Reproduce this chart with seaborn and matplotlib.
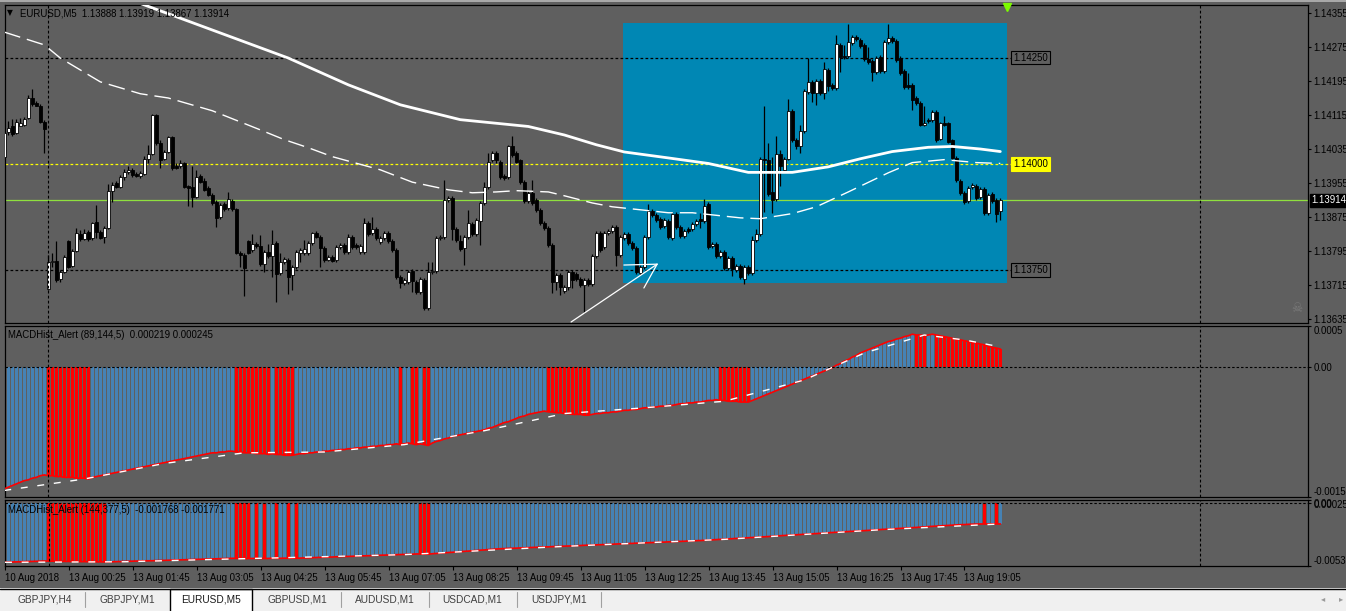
import numpy as np
import pandas as pd
import matplotlib
matplotlib.use("Agg")
import matplotlib.pyplot as plt
import seaborn as sns
from matplotlib.patches import Rectangle
from matplotlib import transforms

# ---------------- data: EURUSD M5, 250 visible bars, prices in points (1e-5) ----------------
OPEN_PTS = [
    114017, 114075, 114088, 114073, 114090, 114092, 114108, 114155, 114144, 114137,
    114099, 113706, 113769, 113772, 113730, 113746, 113819, 113760, 113796, 113836,
    113824, 113840, 113826, 113863, 113840, 113829, 113849, 113937, 113955, 113946,
    113970, 113981, 113986, 113977, 113972, 113977, 114012, 114024, 114115, 114050,
    114012, 114028, 114064, 113996, 113994, 114003, 113948, 113946, 113923, 113972,
    113960, 113943, 113927, 113910, 113876, 113906, 113896, 113913, 113894, 113791,
    113786, 113819, 113798, 113812, 113807, 113765, 113793, 113784, 113814, 113744,
    113769, 113774, 113739, 113758, 113791, 113791, 113791, 113814, 113838, 113829,
    113802, 113774, 113782, 113774, 113805, 113809, 113793, 113829, 113809, 113793,
    113793, 113861, 113838, 113847, 113816, 113826, 113838, 113819, 113798, 113735,
    113720, 113722, 113749, 113722, 113699, 113727, 113661, 113746, 113749, 113826,
    113829, 113915, 113920, 113847, 113819, 113802, 113829, 113859, 113836, 113866,
    113908, 113946, 114010, 114026, 114005, 113972, 113970, 114041, 114026, 114008,
    113957, 113913, 113932, 113915, 113892, 113861, 113849, 113809, 113722, 113739,
    113702, 113711, 113746, 113742, 113730, 113715, 113727, 113718, 113784, 113838,
    113805, 113838, 113843, 113852, 113786, 113826, 113836, 113814, 113802, 113744,
    113758, 113829, 113890, 113880, 113871, 113854, 113866, 113826, 113883, 113852,
    113831, 113847, 113847, 113859, 113871, 113866, 113906, 113807, 113812, 113784,
    113793, 113755, 113779, 113751, 113760, 113730, 113758, 113744, 113821, 113836,
    114012, 114008, 113934, 113918, 114024, 113986, 114012, 114125, 114057, 114041,
    114078, 114169, 114193, 114167, 114196, 114167, 114221, 114186, 114179, 114280,
    114254, 114254, 114285, 114299, 114292, 114280, 114247, 114243, 114216, 114252,
    114219, 114287, 114296, 114290, 114249, 114219, 114186, 114186, 114155, 114144,
    114092, 114104, 114104, 114122, 114059, 114097, 114095, 114055, 114014, 113960,
    113932, 113913, 113946, 113948, 113923, 113941, 113885, 113930, 113915, 113888,
]
HIGH_PTS = [
    114080, 114102, 114106, 114106, 114108, 114111, 114162, 114177, 114149, 114142,
    114104, 113786, 113791, 113819, 113751, 113786, 113821, 113800, 113849, 113845,
    113847, 113845, 113863, 113903, 113845, 113854, 113953, 113957, 113960, 113974,
    113989, 113994, 113991, 113981, 113984, 114019, 114045, 114118, 114118, 114055,
    114033, 114066, 114066, 114003, 114008, 114005, 113950, 113996, 113986, 113977,
    113967, 113948, 113932, 113915, 113908, 113910, 113934, 113918, 113896, 113796,
    113791, 113821, 113836, 113816, 113833, 113798, 113812, 113845, 113819, 113791,
    113782, 113779, 113762, 113798, 113802, 113821, 113819, 113840, 113843, 113833,
    113807, 113786, 113786, 113809, 113814, 113814, 113836, 113833, 113814, 113812,
    113873, 113866, 113876, 113852, 113831, 113843, 113843, 113824, 113802, 113739,
    113732, 113751, 113753, 113727, 113735, 113732, 113769, 113769, 113831, 113833,
    113962, 113925, 113925, 113852, 113833, 113833, 113892, 113863, 113873, 113913,
    113957, 114026, 114031, 114031, 114010, 113977, 114045, 114066, 114031, 114012,
    113962, 113937, 113962, 113920, 113896, 113866, 113854, 113814, 113744, 113744,
    113715, 113751, 113751, 113746, 113735, 113732, 113732, 113789, 113843, 113843,
    113843, 113847, 113856, 113856, 113833, 113840, 113840, 113819, 113807, 113762,
    113833, 113906, 113894, 113885, 113876, 113873, 113871, 113887, 113887, 113856,
    113847, 113852, 113863, 113871, 113885, 113918, 113910, 113816, 113816, 113798,
    113798, 113784, 113784, 113765, 113765, 113762, 113762, 113831, 113847, 114017,
    114135, 114050, 114017, 114066, 114033, 114017, 114153, 114130, 114061, 114092,
    114177, 114249, 114198, 114200, 114200, 114240, 114226, 114191, 114303, 114285,
    114280, 114330, 114303, 114303, 114296, 114285, 114276, 114247, 114254, 114256,
    114292, 114330, 114301, 114294, 114254, 114224, 114214, 114191, 114160, 114149,
    114137, 114108, 114127, 114127, 114099, 114113, 114099, 114059, 114019, 113965,
    113937, 113948, 113955, 113953, 113946, 113946, 113932, 113934, 113920, 113919,
]
LOW_PTS = [
    114014, 114068, 114066, 114071, 114090, 114088, 114106, 114135, 114135, 114097,
    114026, 113704, 113758, 113722, 113722, 113744, 113755, 113758, 113793, 113819,
    113821, 113819, 113821, 113826, 113824, 113814, 113847, 113910, 113943, 113943,
    113962, 113977, 113970, 113970, 113967, 113974, 114003, 114021, 114045, 113991,
    114010, 114026, 113986, 113989, 113991, 113943, 113901, 113899, 113920, 113955,
    113937, 113925, 113903, 113852, 113871, 113890, 113892, 113890, 113789, 113758,
    113690, 113789, 113793, 113802, 113760, 113746, 113779, 113735, 113675, 113739,
    113765, 113695, 113704, 113753, 113769, 113786, 113786, 113809, 113826, 113758,
    113769, 113772, 113769, 113769, 113800, 113789, 113789, 113800, 113800, 113789,
    113789, 113831, 113833, 113821, 113812, 113821, 113814, 113793, 113730, 113708,
    113715, 113718, 113699, 113695, 113695, 113657, 113657, 113742, 113744, 113821,
    113824, 113910, 113821, 113816, 113796, 113762, 113824, 113831, 113831, 113809,
    113903, 113941, 114005, 114003, 113965, 113962, 113965, 114017, 114001, 113953,
    113908, 113908, 113903, 113887, 113856, 113845, 113805, 113697, 113704, 113692,
    113697, 113704, 113708, 113725, 113711, 113650, 113713, 113713, 113779, 113793,
    113800, 113833, 113838, 113760, 113782, 113821, 113809, 113798, 113742, 113739,
    113753, 113824, 113876, 113863, 113847, 113849, 113824, 113821, 113847, 113826,
    113826, 113838, 113843, 113854, 113849, 113861, 113800, 113802, 113779, 113779,
    113751, 113751, 113737, 113746, 113730, 113718, 113739, 113739, 113816, 113831,
    113887, 113925, 113885, 113913, 113948, 113981, 114008, 114052, 114036, 114026,
    114073, 114165, 114146, 114139, 114162, 114153, 114172, 114174, 114174, 114216,
    114247, 114249, 114280, 114290, 114273, 114243, 114236, 114196, 114212, 114214,
    114214, 114283, 114285, 114240, 114209, 114177, 114177, 114127, 114139, 114088,
    114088, 114097, 114099, 114052, 114055, 114088, 114048, 114010, 113957, 113927,
    113906, 113908, 113941, 113915, 113918, 113880, 113880, 113908, 113863, 113867,
]
CLOSE_PTS = [
    114073, 114085, 114071, 114099, 114097, 114106, 114155, 114142, 114137, 114099,
    114083, 113769, 113772, 113727, 113746, 113782, 113758, 113796, 113838, 113824,
    113838, 113824, 113861, 113840, 113826, 113849, 113937, 113950, 113946, 113970,
    113981, 113986, 113974, 113972, 113979, 114012, 114024, 114115, 114050, 114010,
    114028, 114064, 113991, 113991, 114003, 113946, 113943, 113923, 113970, 113957,
    113939, 113927, 113908, 113873, 113903, 113894, 113918, 113894, 113791, 113786,
    113755, 113791, 113812, 113807, 113765, 113793, 113784, 113812, 113742, 113769,
    113777, 113735, 113758, 113793, 113798, 113800, 113814, 113838, 113829, 113802,
    113774, 113782, 113772, 113805, 113809, 113793, 113829, 113805, 113805, 113807,
    113861, 113836, 113847, 113826, 113826, 113838, 113819, 113798, 113735, 113720,
    113727, 113746, 113725, 113699, 113730, 113661, 113746, 113749, 113826, 113829,
    113915, 113920, 113847, 113821, 113800, 113829, 113861, 113836, 113868, 113908,
    113946, 114005, 114026, 114008, 113970, 113967, 114041, 114021, 114005, 113957,
    113913, 113932, 113908, 113892, 113861, 113849, 113809, 113722, 113739, 113711,
    113711, 113746, 113727, 113730, 113715, 113727, 113718, 113784, 113838, 113798,
    113838, 113843, 113852, 113786, 113829, 113836, 113814, 113802, 113746, 113758,
    113829, 113890, 113880, 113868, 113852, 113868, 113829, 113883, 113852, 113831,
    113843, 113843, 113859, 113866, 113866, 113901, 113805, 113812, 113784, 113793,
    113755, 113779, 113753, 113760, 113735, 113758, 113744, 113821, 113836, 114012,
    114008, 113930, 113915, 114024, 113994, 114012, 114125, 114057, 114041, 114078,
    114172, 114193, 114167, 114196, 114167, 114224, 114184, 114179, 114283, 114252,
    114252, 114287, 114299, 114294, 114278, 114247, 114240, 114216, 114249, 114219,
    114287, 114296, 114290, 114245, 114214, 114182, 114182, 114151, 114144, 114092,
    114097, 114102, 114122, 114057, 114095, 114092, 114052, 114014, 113962, 113932,
    113910, 113943, 113950, 113920, 113941, 113885, 113927, 113913, 113883, 113914,
]

# moving averages (read at selected bars)
MA_SLOW_BARS = [0, 20, 35, 71, 86, 99, 114, 131, 140, 148, 155, 166, 176, 186, 197, 206, 214, 222, 231, 237, 244, 249]
MA_SLOW = [1.14492, 1.14424, 1.14374, 1.14249, 1.14186, 1.14139, 1.14104, 1.14088, 1.14068, 1.14045, 1.14028,
           1.14014, 1.14001, 1.13980, 1.13980, 1.13993, 1.14012, 1.14029, 1.14039, 1.14041, 1.14035, 1.14029]
MA_FAST_BARS = [0, 10, 14, 24, 34, 41, 52, 64, 70, 76, 82, 94, 102, 111, 117, 123, 128, 136, 140, 147,
                152, 159, 166, 172, 184, 189, 197, 203, 211, 221, 227, 235, 243, 249]
MA_FAST = [1.14310, 1.14280, 1.14249, 1.14193, 1.14165, 1.14155, 1.14125, 1.14080, 1.14057, 1.14038,
           1.14017, 1.13986, 1.13957, 1.13939, 1.13932, 1.13934, 1.13937, 1.13934, 1.13925, 1.13908,
           1.13899, 1.13892, 1.13885, 1.13885, 1.13873, 1.13871, 1.13883, 1.13899, 1.13934, 1.13979,
           1.14003, 1.14010, 1.14003, 1.14001]

# MACDHist_Alert (89,144,5), values in 1e-5
HIST1_E5 = [
    -149, -147, -145, -143, -141, -139, -138, -136, -135, -133,
    -132, -133, -133, -134, -134, -135, -135, -135, -136, -136,
    -136, -137, -135, -134, -133, -132, -131, -130, -129, -128,
    -127, -126, -125, -124, -123, -122, -121, -120, -119, -118,
    -117, -116, -115, -114, -113, -112, -111, -110, -109, -108,
    -107, -106, -105, -105, -104, -104, -103, -103, -104, -104,
    -105, -105, -105, -106, -106, -106, -107, -106, -107, -107,
    -108, -108, -108, -107, -106, -106, -105, -105, -104, -104,
    -103, -103, -102, -102, -101, -101, -100, -100, -99, -99,
    -98, -98, -97, -97, -96, -96, -95, -95, -94, -95,
    -94, -93, -94, -95, -94, -95, -96, -93, -91, -90,
    -88, -87, -85, -84, -83, -82, -81, -80, -79, -78,
    -77, -75, -74, -72, -70, -68, -67, -65, -63, -61,
    -60, -58, -57, -56, -55, -54, -55, -55, -56, -56,
    -57, -57, -58, -58, -58, -59, -59, -58, -57, -57,
    -56, -56, -55, -55, -54, -53, -53, -52, -52, -51,
    -50, -50, -49, -49, -48, -48, -47, -47, -46, -45,
    -45, -44, -44, -43, -43, -42, -41, -41, -40, -41,
    -41, -42, -42, -42, -43, -43, -43, -41, -39, -37,
    -35, -33, -31, -29, -27, -25, -23, -21, -19, -17,
    -15, -13, -11, -9, -7, -5, -3, -1, 2, 4,
    7, 9, 12, 14, 17, 19, 21, 23, 25, 27,
    29, 31, 32, 34, 35, 37, 38, 40, 39, 39,
    38, 39, 40, 39, 38, 37, 36, 35, 34, 33,
    32, 31, 30, 29, 28, 27, 25, 24, 23, 22,
]
RED_RUNS1 = [(11, 21), (58, 66), (68, 72), (99, 99), (102, 103), (105, 106),
             (136, 146), (179, 186), (228, 230), (233, 249)]
SIG1_BARS = [0, 20, 40, 60, 80, 100, 120, 140, 160, 180, 200, 215, 230, 240, 249]
SIG1_E5 = [-151, -137, -118, -105, -104, -95, -78, -57, -50, -42, -16, 17, 39, 33, 24.5]

# MACDHist_Alert (144,377,5), values in 1e-5
HIST2_E5 = [
    -500, -499, -498, -497, -496, -495, -494, -493, -492, -491,
    -490, -491, -491, -492, -492, -493, -493, -494, -494, -495,
    -495, -496, -496, -497, -497, -498, -497, -496, -495, -494,
    -493, -492, -491, -490, -489, -488, -488, -487, -486, -485,
    -484, -483, -482, -481, -480, -479, -478, -477, -476, -475,
    -474, -473, -472, -471, -470, -469, -468, -467, -468, -468,
    -469, -469, -468, -469, -468, -469, -468, -467, -468, -467,
    -466, -467, -466, -467, -465, -464, -463, -462, -460, -459,
    -458, -457, -456, -454, -453, -452, -451, -450, -448, -447,
    -446, -445, -444, -442, -441, -440, -439, -438, -436, -435,
    -434, -433, -432, -430, -431, -431, -432, -428, -426, -423,
    -421, -418, -416, -413, -411, -408, -406, -403, -401, -398,
    -396, -393, -391, -388, -386, -385, -383, -382, -381, -379,
    -378, -377, -375, -374, -372, -371, -370, -368, -367, -366,
    -364, -363, -362, -360, -359, -357, -356, -355, -353, -352,
    -351, -349, -348, -346, -345, -344, -342, -341, -339, -338,
    -337, -335, -334, -332, -331, -330, -328, -327, -325, -324,
    -323, -321, -320, -318, -317, -315, -313, -311, -309, -307,
    -305, -303, -301, -299, -297, -295, -293, -291, -289, -287,
    -285, -283, -280, -278, -276, -274, -272, -270, -268, -266,
    -264, -262, -260, -258, -256, -254, -251, -249, -247, -245,
    -243, -241, -239, -237, -235, -233, -231, -228, -226, -224,
    -222, -220, -218, -216, -214, -212, -210, -208, -206, -204,
    -202, -199, -197, -195, -193, -191, -189, -187, -185, -183,
    -182, -180, -179, -178, -177, -177.5, -177.2, -176.6, -177.1, -176.8,
]
RED_RUNS2 = [(11, 25), (58, 61), (63, 63), (65, 65), (68, 68), (71, 71), (73, 73),
             (104, 106), (245, 245), (248, 248)]
SIG2_BARS = [0, 30, 60, 100, 140, 180, 220, 249]
SIG2_E5 = [-501, -496, -470, -436, -366, -307, -224, -177.1]

PRICE_TICKS = [1.14355, 1.14275, 1.14195, 1.14115, 1.14035, 1.13955, 1.13875, 1.13795, 1.13715, 1.13635]
TIME_TICK_BARS = [0, 16, 32, 48, 64, 80, 96, 112, 128, 144, 160, 176, 192, 208, 224, 240]
TIME_LABELS = ["10 Aug 2018", "13 Aug 00:25", "13 Aug 01:45", "13 Aug 03:05", "13 Aug 04:25",
               "13 Aug 05:45", "13 Aug 07:05", "13 Aug 08:25", "13 Aug 09:45", "13 Aug 11:05",
               "13 Aug 12:25", "13 Aug 13:45", "13 Aug 15:05", "13 Aug 16:25", "13 Aug 17:45",
               "13 Aug 19:05"]
LEVELS = [1.14250, 1.14000, 1.13750]
LEVEL_COLORS = ["black", "#FFFF00", "black"]
BID = 1.13914
DAY_SEPARATORS = [11, 299]
ZONE = (154.7, 250.7, 1.137197, 1.143315)   # bar from, bar to, price low, price high
ARROW_BARS = [141.7, 163.2, 154.9, 163.2, 159.9]
ARROW_PRICES = [1.13628, 1.13764, 1.13762, 1.13764, 1.13708]
TABS = ["GBPJPY,H4", "GBPJPY,M1", "EURUSD,M5", "GBPUSD,M1", "AUDUSD,M1", "USDCAD,M1", "USDJPY,M1"]

# ---------------- style ----------------
W, H = 1346, 611
BG = "#5F5F5F"
ZONE_BLUE = "#0087B4"
HIST_BLUE = "#4682B4"
FS = 6.9

sns.set_theme(style="white")
plt.rcParams["font.family"] = ["Liberation Sans", "DejaVu Sans"]
plt.rcParams["axes.linewidth"] = 0.9


def px_box(x0, y0, x1, y1):
    return [x0 / W, 1 - y1 / H, (x1 - x0) / W, (y1 - y0) / H]


def style_panel(a):
    a.set_facecolor(BG)
    for s in a.spines.values():
        s.set_color("black")
        s.set_linewidth(0.9)
    a.yaxis.tick_right()
    a.tick_params(axis="y", length=2.5, width=0.8, colors="black", labelsize=FS, pad=1.5,
                  direction="out", left=False, right=True)
    a.tick_params(axis="x", bottom=False, labelbottom=False)
    a.grid(False)
    for b in DAY_SEPARATORS:
        a.axvline(b, color="black", lw=0.8, ls=(0, (2.5, 2)), zorder=7)


df = pd.DataFrame({"open": OPEN_PTS, "high": HIGH_PTS, "low": LOW_PTS, "close": CLOSE_PTS}) / 1e5
df["bar"] = np.arange(len(df))
bars = df["bar"].to_numpy()

fig = plt.figure(figsize=(W / 100, H / 100), dpi=100, facecolor=BG)
ax = fig.add_axes(px_box(5, 5, 1308, 323))
ax1 = fig.add_axes(px_box(5, 326, 1308, 497))
ax2 = fig.add_axes(px_box(5, 500, 1308, 566))
for a in (ax, ax1, ax2):
    style_panel(a)
    a.set_xlim(0.175, 325.925)

# ---- main chart ----
ax.set_ylim(1.136256, 1.143738)
ax.add_patch(Rectangle((ZONE[0], ZONE[2]), ZONE[1] - ZONE[0], ZONE[3] - ZONE[2],
                       facecolor=ZONE_BLUE, edgecolor="none", zorder=1))
ax.axhline(BID, color="#8FE03F", lw=0.9, zorder=2)
for lv, col in zip(LEVELS, LEVEL_COLORS):
    ax.hlines(lv, 0.175, 251.8, colors=col, lw=0.9, linestyles=(0, (2.2, 1.8)), zorder=2)
    ax.text(252.2, lv, f"{lv:.5f}", fontsize=FS, va="center", ha="left", color="black", zorder=9,
            bbox=dict(boxstyle="square,pad=0.18", fc=col if col != "black" else BG, ec=col, lw=0.8))

ax.vlines(bars, df["low"], df["high"], color="black", lw=0.9, zorder=3)
bull = df["close"] >= df["open"]
ax.bar(bars[bull], (df["close"] - df["open"])[bull], bottom=df["open"][bull], width=0.72,
       color="white", edgecolor="black", linewidth=0.6, zorder=4)
ax.bar(bars[~bull], (df["open"] - df["close"])[~bull], bottom=df["close"][~bull], width=0.72,
       color="black", edgecolor="black", linewidth=0.6, zorder=4)

sns.lineplot(x=MA_SLOW_BARS, y=MA_SLOW, ax=ax, color="white", linewidth=2.0, zorder=5)
sns.lineplot(x=MA_FAST_BARS, y=MA_FAST, ax=ax, color="white", linewidth=1.0, zorder=5)
ax.lines[-1].set_dashes((12, 5))

ax.plot(ARROW_BARS[:2], ARROW_PRICES[:2], color="white", lw=0.9, zorder=6)
ax.plot(ARROW_BARS[2:4], ARROW_PRICES[2:4], color="white", lw=0.9, zorder=6)
ax.plot(ARROW_BARS[3:], ARROW_PRICES[3:], color="white", lw=0.9, zorder=6)
ax.plot([250.6], [1.14369], marker="v", color="#7CFC00", ms=5.5, zorder=9, clip_on=False)

ax.set_yticks(PRICE_TICKS)
ax.set_yticklabels([f"{v:.5f}" for v in PRICE_TICKS])
ax.set_ylabel("")
ax.text(1.0023, BID, f"{BID:.5f}", transform=transforms.blended_transform_factory(ax.transAxes, ax.transData),
        fontsize=FS, color="white", va="center", ha="left", clip_on=False, zorder=10,
        bbox=dict(boxstyle="square,pad=0.15", fc="black", ec="black"))


# ---- MACD panels ----
def red_flags(runs, n):
    flags = np.zeros(n, dtype=bool)
    for a0, a1 in runs:
        flags[a0:a1 + 1] = True
    return flags


for a, hist, runs, sb, sv, lo, hi, ticks, labels in (
        (ax1, HIST1_E5, RED_RUNS1, SIG1_BARS, SIG1_E5, -0.00159, 0.0005,
         [0.0005, 0.0, -0.00159], ["0.0005", "0.00", "-0.00159"]),
        (ax2, HIST2_E5, RED_RUNS2, SIG2_BARS, SIG2_E5, -0.00532, 0.000254,
         [0.000254, 0.0, -0.00532], ["0.000254", "0.00", "-0.00532"])):
    vals = np.array(hist) * 1e-5
    red = red_flags(runs, len(vals))
    colors = np.where(red, "#FF0000", HIST_BLUE)
    a.bar(bars, vals, width=0.75, color=colors, linewidth=0, antialiased=False, zorder=2)
    sns.lineplot(x=bars, y=vals, ax=a, color="#FF0000", linewidth=1.2, zorder=3)
    sns.lineplot(x=list(sb), y=list(np.array(sv) * 1e-5), ax=a, color="white", linewidth=1.0, zorder=4)
    a.lines[-1].set_dashes((5, 7))
    a.axhline(0, color="black", lw=0.8, ls=(0, (2.2, 1.8)), zorder=6)
    a.set_ylim(lo, hi)
    a.set_yticks(ticks)
    a.set_yticklabels(labels)
    tl = a.get_yticklabels()
    tl[0].set_va("top")
    tl[-1].set_va("bottom")
    a.set_ylabel("")

ax2.set_xticks(TIME_TICK_BARS)
ax2.set_xticklabels(TIME_LABELS)
ax2.tick_params(axis="x", bottom=True, labelbottom=True, length=3, width=0.8, colors="black",
                labelsize=FS, pad=2, direction="out")
for t in ax2.get_xticklabels():
    t.set_ha("left")

# ---- texts ----
fig.text(10 / W, 1 - 13 / H, "\u25BC", fontsize=5.5, color="black", va="center", ha="center",
         family="DejaVu Sans")
fig.text(20 / W, 1 - 13 / H, "EURUSD,M5  1.13888 1.13919 1.13867 1.13914", fontsize=FS, color="black", va="center")
fig.text(8 / W, 1 - 335 / H, "MACDHist_Alert (89,144,5)  0.000219 0.000245", fontsize=FS, color="black", va="center")
fig.text(8 / W, 1 - 510 / H, "MACDHist_Alert (144,377,5)  -0.001768 -0.001771", fontsize=FS, color="black", va="center")
fig.text(1297 / W, 1 - 308 / H, "\u2620", fontsize=9, color="#7A7A7A", va="center", ha="center",
         family="DejaVu Sans")

# top window border
fig.patches.append(Rectangle((0, 1 - 2 / H), 1, 2 / H, transform=fig.transFigure, fc="#A8A8A8", ec="none"))

# ---- tab bar ----
tab = fig.add_axes([0, 0, 1, 23 / H])
tab.set_xlim(0, W)
tab.set_ylim(H, 588)
tab.axis("off")
tab.add_patch(Rectangle((0, 588), W, 23, fc="#F0F0F0", ec="none"))
tab.plot([0, W], [588.8, 588.8], color="black", lw=1.0)
tab.add_patch(Rectangle((170, 589), 82, 23, fc="white", ec="black", lw=1.0))
for sx in [85, 341, 429, 517, 601]:
    tab.plot([sx, sx], [592, 607], color="#A0A0A0", lw=0.8)
for name, cx in zip(TABS, [45, 127, 211, 297, 385, 472, 559]):
    tab.text(cx, 599.5, name, fontsize=7.3, color="#1A1A1A" if name == "EURUSD,M5" else "#404040",
             ha="center", va="center")
tab.text(1323, 599, "\u25C2", fontsize=6, color="#9A9A9A", ha="center", va="center", family="DejaVu Sans")
tab.text(1341, 599, "\u25B8", fontsize=6, color="#9A9A9A", ha="center", va="center", family="DejaVu Sans")

fig.savefig("out.png", dpi=100, facecolor=fig.get_facecolor())
